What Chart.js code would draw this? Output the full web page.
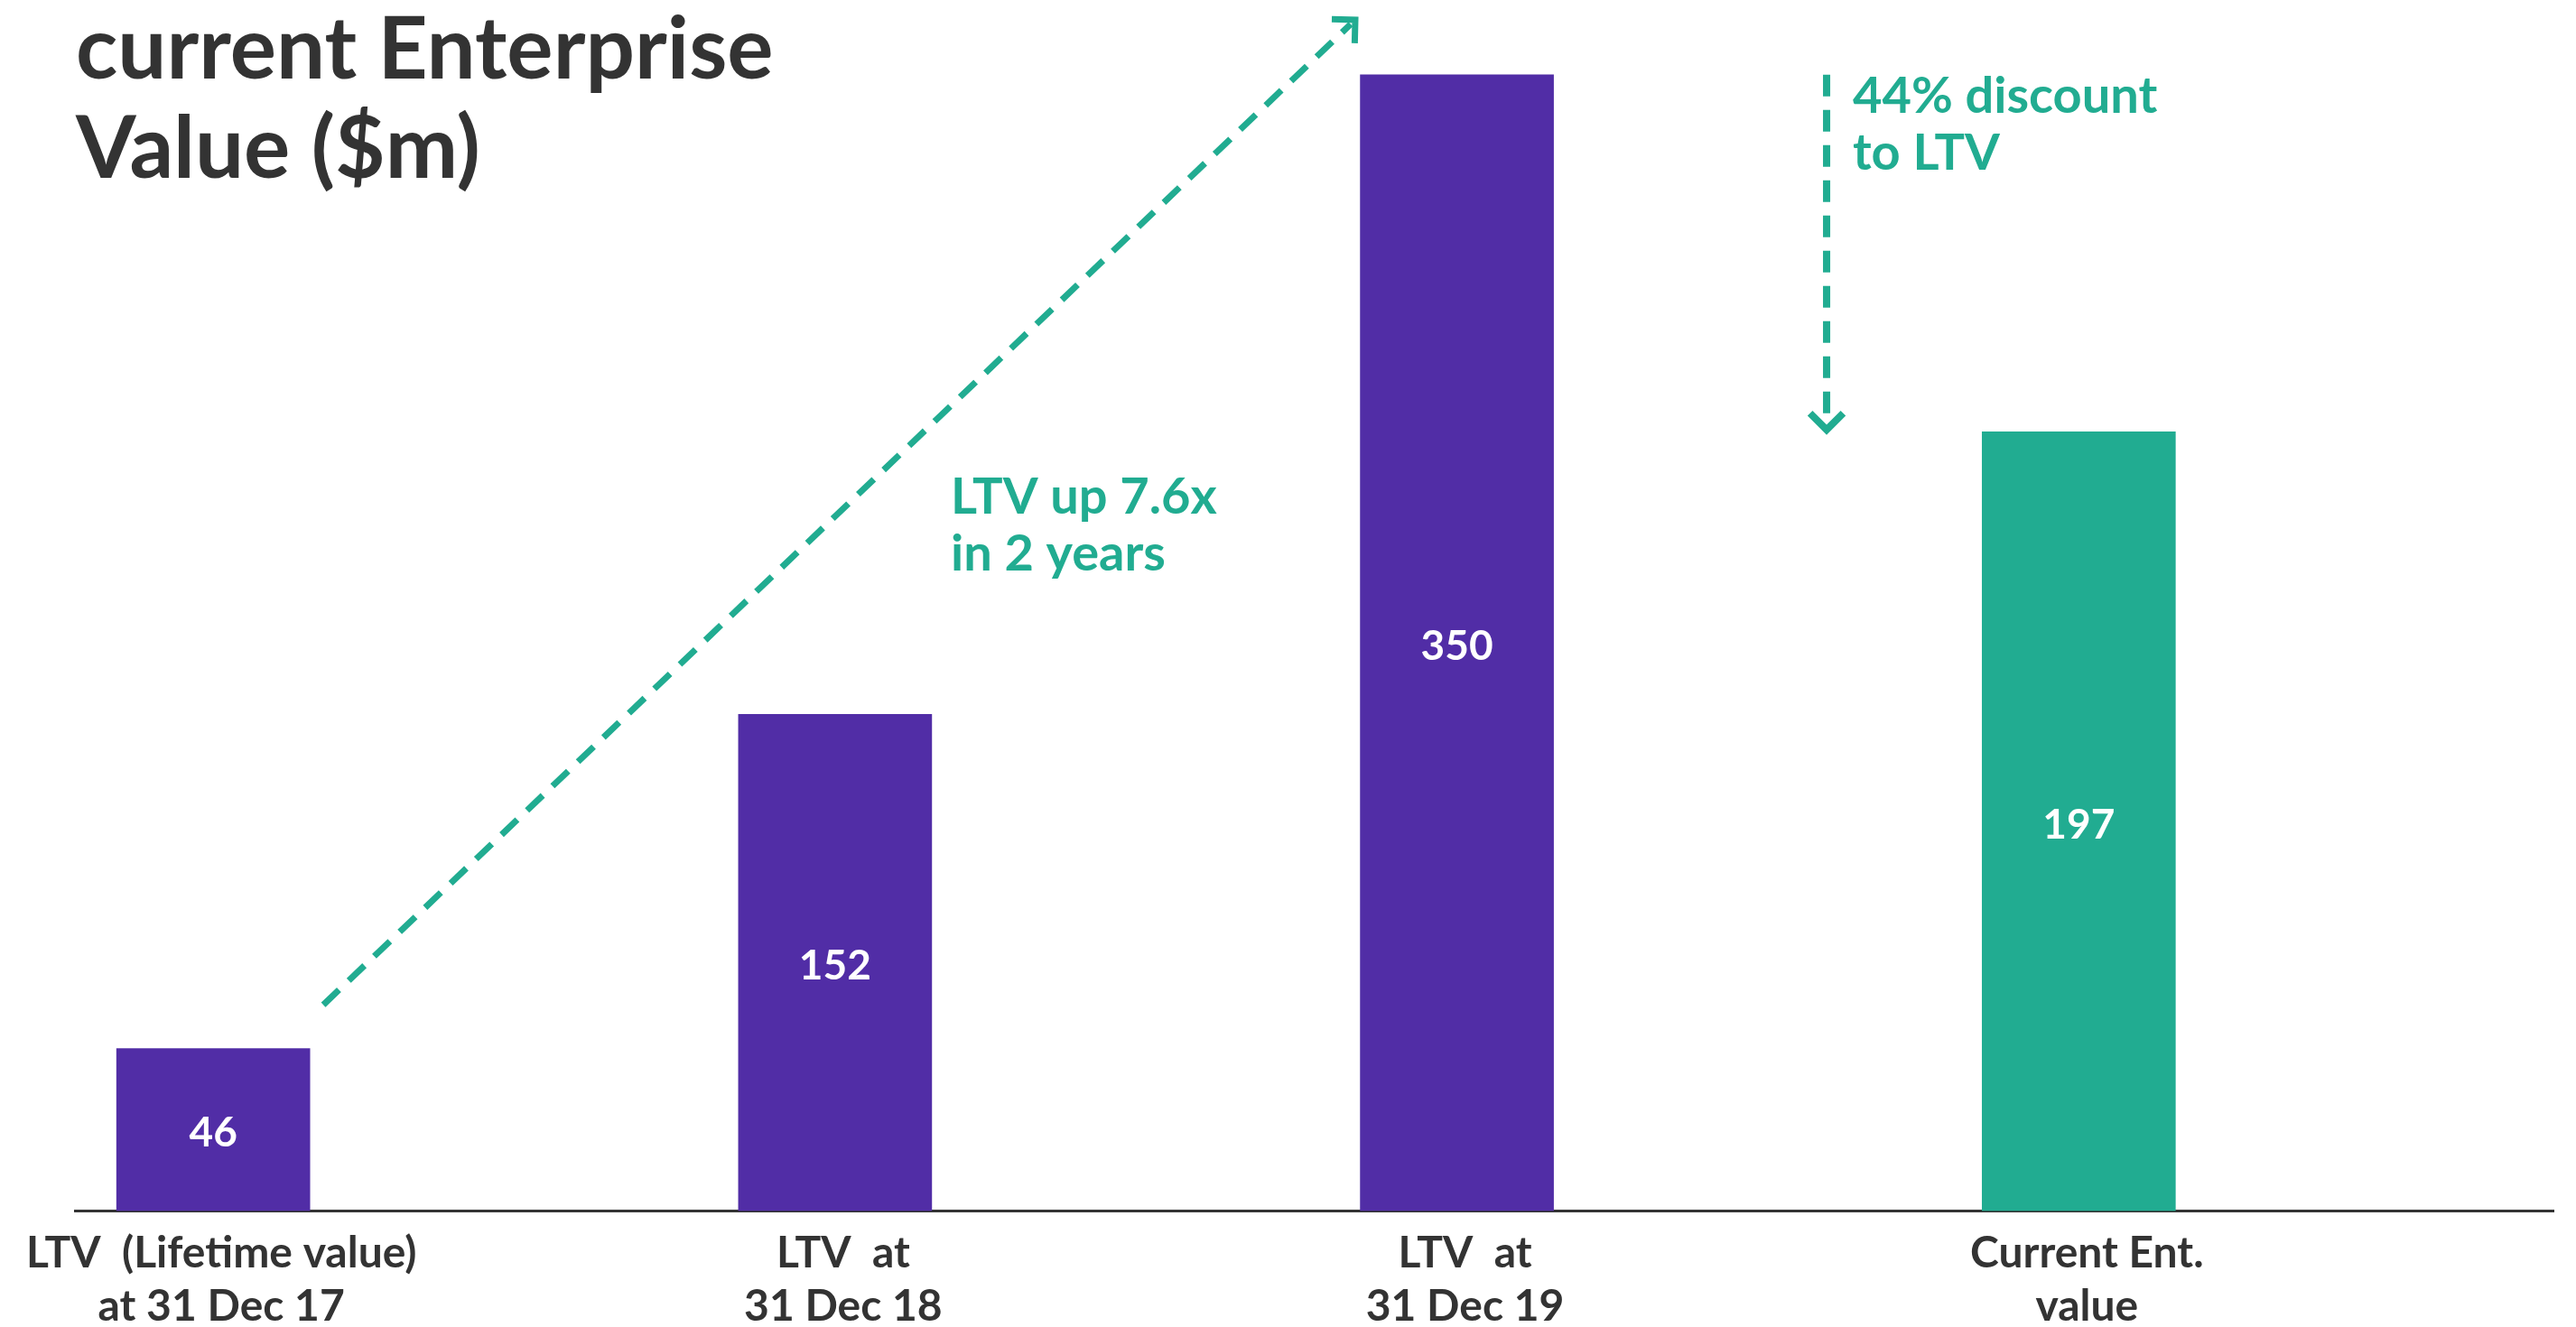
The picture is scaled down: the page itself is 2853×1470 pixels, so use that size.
<!DOCTYPE html>
<html>
<head>
<meta charset="utf-8">
<script src="https://cdn.jsdelivr.net/npm/chart.js@4"></script>
<style>
   html, body { margin: 0; padding: 0; background: #fff; }
   canvas { display: block; }
</style>
</head>
<body>
<canvas id="myChart" width="2853" height="1470"></canvas>
<script>
const categories = [
   ['LTV  (Lifetime value)', 'at 31 Dec 17'],
   ['LTV  at', '31 Dec 18'],
   ['LTV  at', '31 Dec 19'],
   ['Current Ent.', 'value']
];
const valueLabels = ['46', '152', '350', '197'];
// heights as drawn on the slide (bars are not to scale with the printed values)
const barHeights = [50, 153, 350, 240];
const barColors = ['#512da6', '#512da6', '#512da6', '#21ac91'];
const titleLines = ['current Enterprise', 'Value ($m)'];
const growthNote = ['LTV up 7.6x', 'in 2 years'];
const discountNote = ['44% discount', 'to LTV'];

const TEAL = '#21ac91';
const DARK = '#333333';

function dashedArrow(ctx, x1, y1, x2, y2, width) {
   const a = Math.atan2(y2 - y1, x2 - x1);
   const len = 26;

   ctx.save();
   ctx.strokeStyle = TEAL;
   ctx.lineWidth = width;
   ctx.setLineDash([24, 15]);
   ctx.beginPath();
   ctx.moveTo(x1, y1);
   ctx.lineTo(x2 - Math.cos(a) * width, y2 - Math.sin(a) * width);
   ctx.stroke();

   ctx.setLineDash([]);
   ctx.lineJoin = 'miter';
   ctx.beginPath();
   ctx.moveTo(x2 - len * Math.cos(a - Math.PI / 4), y2 - len * Math.sin(a - Math.PI / 4));
   ctx.lineTo(x2, y2);
   ctx.lineTo(x2 - len * Math.cos(a + Math.PI / 4), y2 - len * Math.sin(a + Math.PI / 4));
   ctx.stroke();
   ctx.restore();
}

function textLines(ctx, lines, x, y, step) {
   lines.forEach((t, i) => ctx.fillText(t, x, y + i * step));
}

const slidePlugin = {
   id: 'slide',
   afterDatasetsDraw(chart) {
      const ctx = chart.ctx;
      const meta = chart.getDatasetMeta(0);

      ctx.save();
      ctx.fillStyle = '#fff';
      ctx.font = 'bold 46px Lato';
      ctx.textAlign = 'center';
      ctx.textBaseline = 'middle';
      meta.data.forEach((bar, i) => {
         const p = bar.getProps(['x', 'y', 'base'], true);
         ctx.fillText(valueLabels[i], p.x, (p.y + p.base) / 2 + 4);
      });
      ctx.restore();
   },
   afterDraw(chart) {
      const ctx = chart.ctx;
      const xs = chart.scales.x, ys = chart.scales.y;

      // title
      ctx.save();
      ctx.fillStyle = DARK;
      ctx.font = 'bold 96px Lato';
      ctx.textAlign = 'left';
      ctx.textBaseline = 'alphabetic';
      textLines(ctx, titleLines, 84, 87, 110);

      // notes
      ctx.fillStyle = TEAL;
      ctx.font = 'bold 56px Lato';
      textLines(ctx, growthNote, 1053, 569, 63);
      textLines(ctx, discountNote, 2052, 125, 63);
      ctx.restore();

      // arrows, placed in data space
      dashedArrow(ctx,
         xs.getPixelForValue(0.177), ys.getPixelForValue(63.5),
         xs.getPixelForValue(1.8365), ys.getPixelForValue(366.9), 7);
      dashedArrow(ctx,
         xs.getPixelForValue(2.5945), ys.getPixelForValue(350),
         xs.getPixelForValue(2.5945), ys.getPixelForValue(240.6), 8);
   }
};

const myChart = new Chart(document.getElementById('myChart').getContext('2d'), {
   type: 'bar',
   data: {
      datasets: [{
         data: barHeights.map((h, i) => ({ x: i, y: h })),
         backgroundColor: barColors,
         borderWidth: 0,
         barThickness: 214,
      }]
   },
   options: {
      responsive: false,
      animation: false,
      devicePixelRatio: 1,
      layout: { padding: { left: 83, right: 25, top: 0, bottom: 0 } },
      plugins: {
         legend: { display: false },
         title: { display: false },
         tooltip: { enabled: false },
      },
      scales: {
         x: {
            type: 'linear',
            offset: false,
            min: -0.2224,
            max: 3.7633,
            grid: { display: false, drawTicks: false, offset: false },
            border: { display: true, color: DARK, width: 3 },
            afterBuildTicks: s => { s.ticks = categories.map((c, i) => ({ value: i })); },
            afterFit: s => { s.height = 128.5; s.paddingLeft = 0; s.paddingRight = 0; },
            ticks: {
               autoSkip: false,
               maxRotation: 0,
               padding: 18,
               labelOffset: 9,
               color: DARK,
               font: { family: 'Lato', weight: 'bold', size: 48, lineHeight: '59px' },
               callback: v => categories[v],
            },
         },
         y: {
            display: false,
            min: 0,
            max: 373,
         },
      },
   },
   plugins: [slidePlugin],
});
</script>
</body>
</html>
